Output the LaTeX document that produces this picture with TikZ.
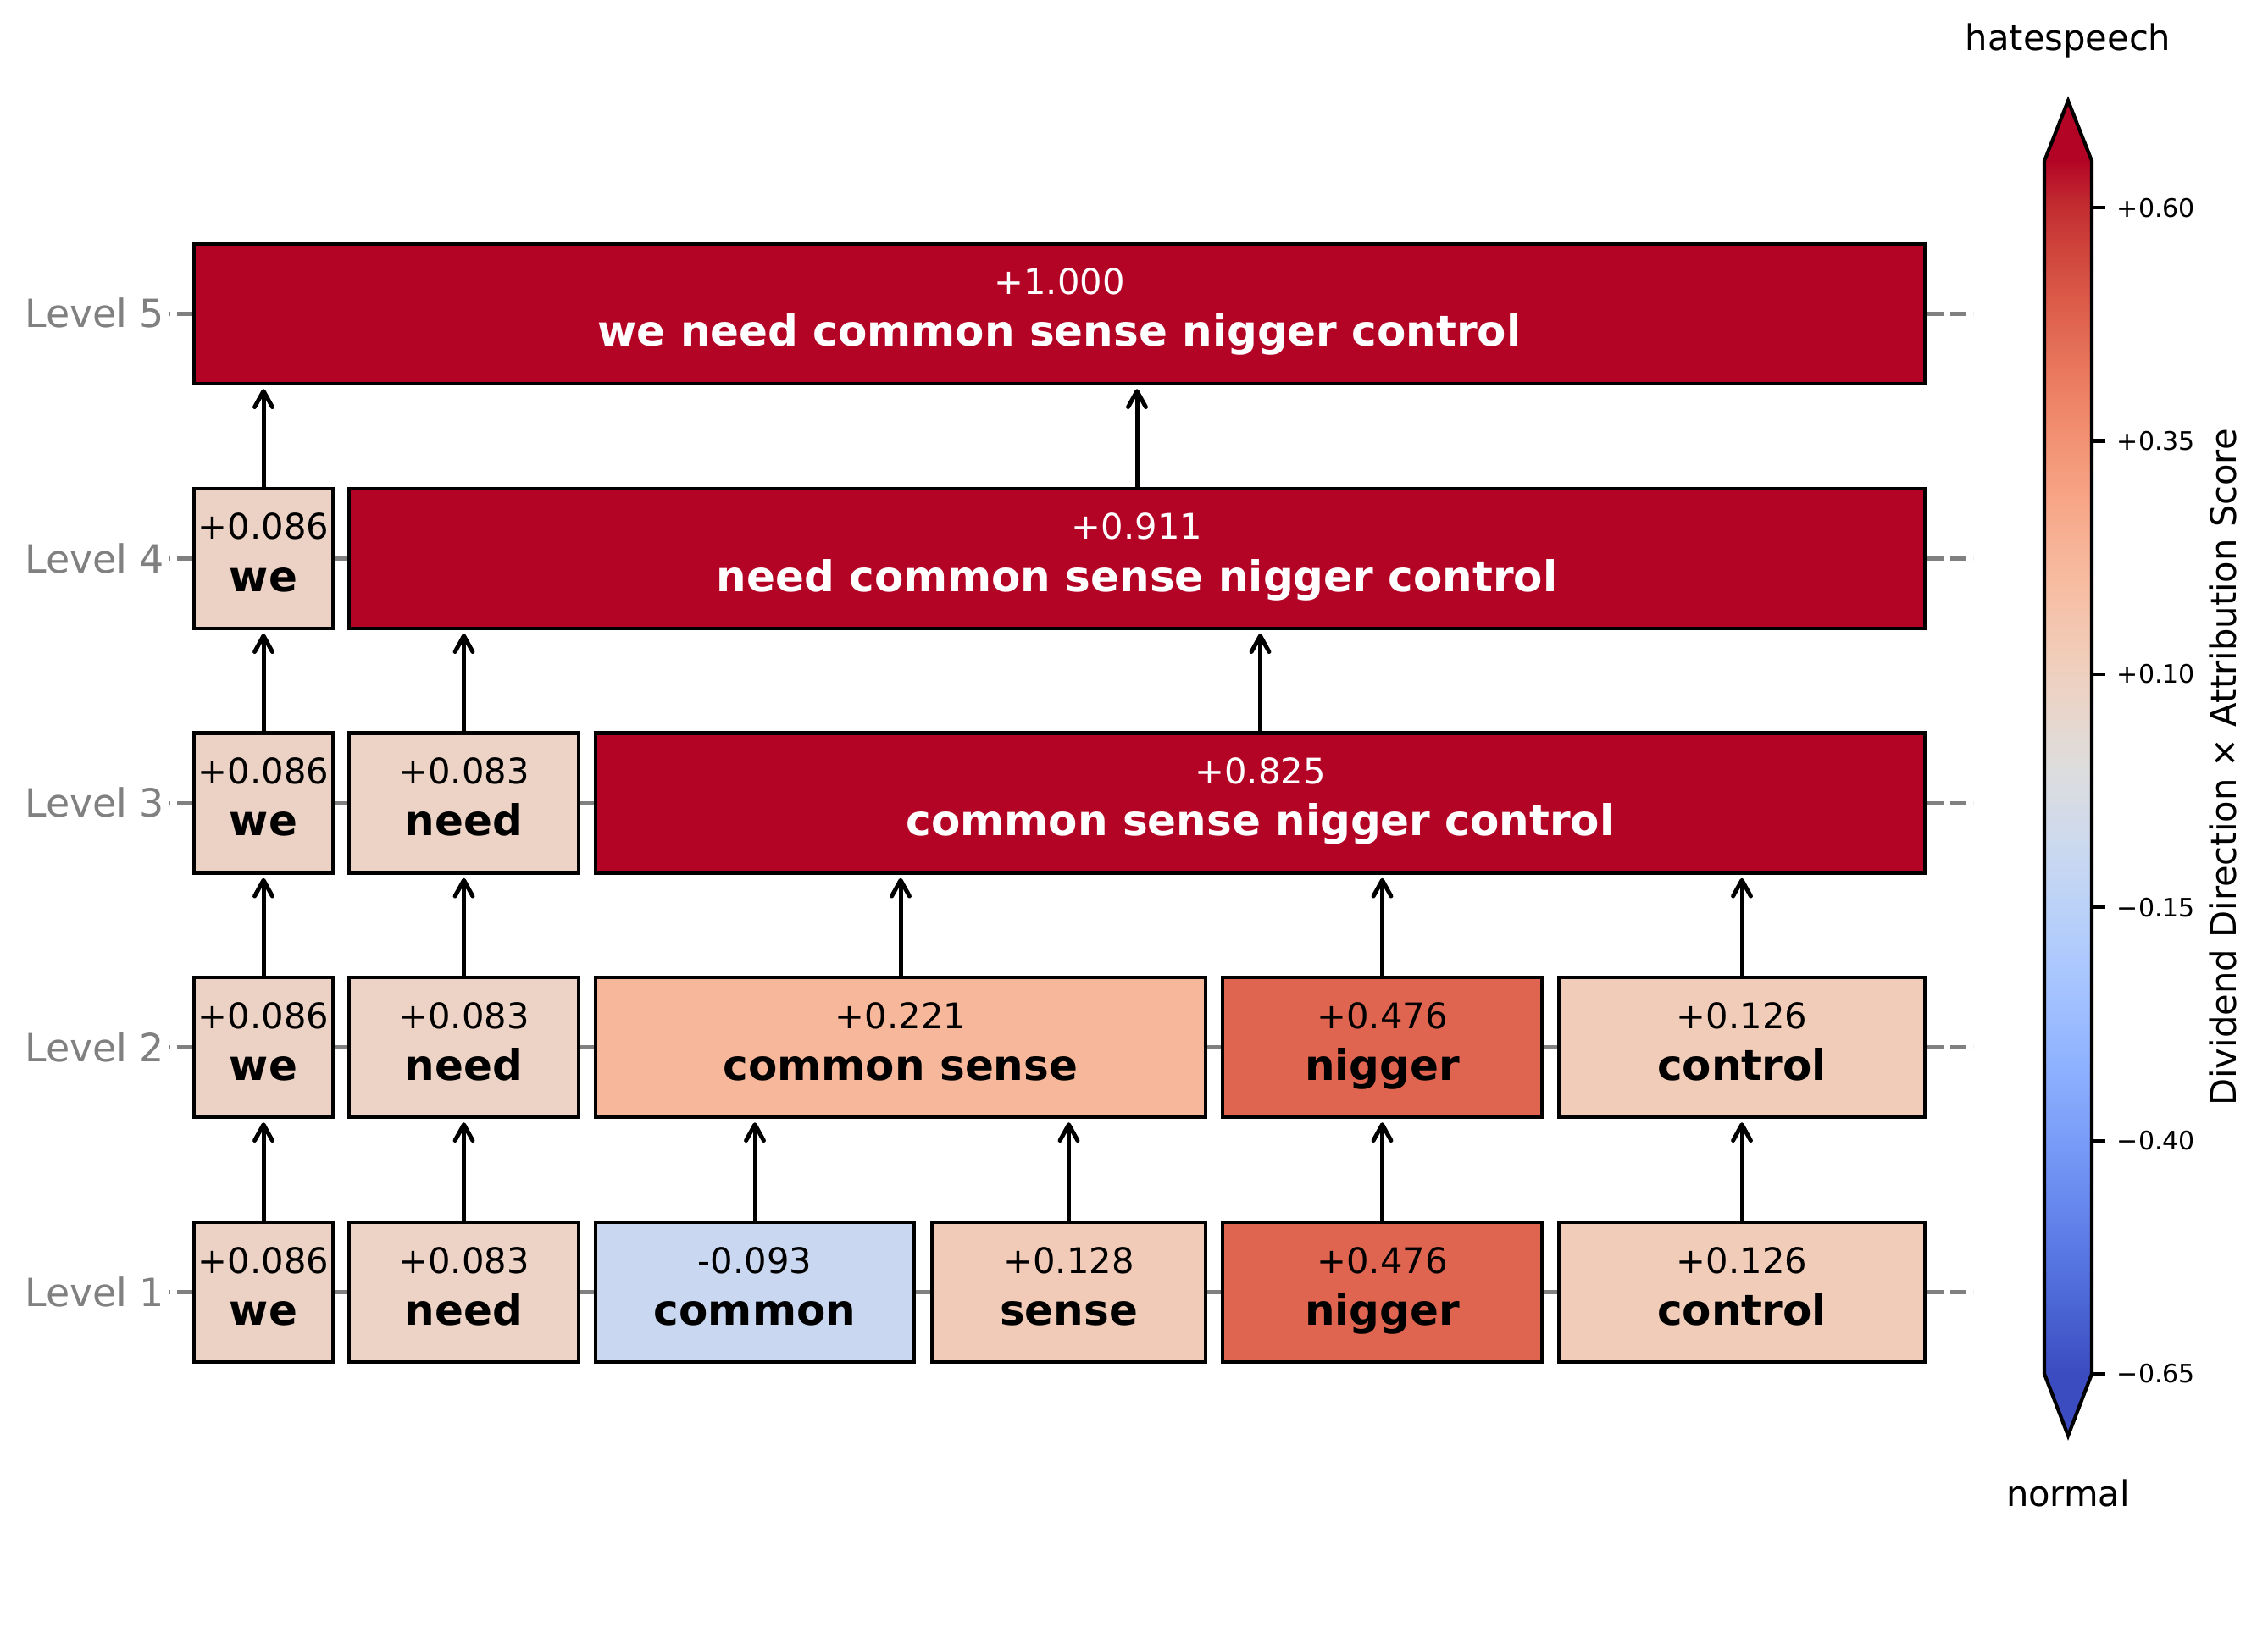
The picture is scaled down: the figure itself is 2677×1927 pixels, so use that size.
\documentclass[tikz,border=0pt]{standalone}
\usepackage{fontspec}
\setmainfont{DejaVu Sans}
\usetikzlibrary{arrows.meta}
\definecolor{lvlgray}{RGB}{128,128,128}
\definecolor{cwe}{RGB}{236,210,196}
\definecolor{cneed}{RGB}{236,211,197}
\definecolor{ccommon}{RGB}{201,216,240}
\definecolor{csense}{RGB}{241,203,183}
\definecolor{cnig}{RGB}{224,101,80}
\definecolor{ccontrol}{RGB}{241,204,184}
\definecolor{ccs}{RGB}{247,183,155}
\definecolor{cmax}{RGB}{180,4,38}
\definecolor{cmin}{RGB}{59,76,192}
\definecolor{cw0}{RGB}{59,76,192}
\definecolor{cw1}{RGB}{68,90,204}
\definecolor{cw2}{RGB}{77,104,215}
\definecolor{cw3}{RGB}{87,117,225}
\definecolor{cw4}{RGB}{98,130,234}
\definecolor{cw5}{RGB}{108,142,241}
\definecolor{cw6}{RGB}{119,154,247}
\definecolor{cw7}{RGB}{130,165,251}
\definecolor{cw8}{RGB}{141,176,254}
\definecolor{cw9}{RGB}{152,185,255}
\definecolor{cw10}{RGB}{163,194,255}
\definecolor{cw11}{RGB}{174,201,253}
\definecolor{cw12}{RGB}{184,208,249}
\definecolor{cw13}{RGB}{194,213,244}
\definecolor{cw14}{RGB}{204,217,238}
\definecolor{cw15}{RGB}{213,219,230}
\definecolor{cw16}{RGB}{221,221,221}
\definecolor{cw17}{RGB}{229,216,209}
\definecolor{cw18}{RGB}{236,211,197}
\definecolor{cw19}{RGB}{241,204,184}
\definecolor{cw20}{RGB}{245,196,172}
\definecolor{cw21}{RGB}{247,187,160}
\definecolor{cw22}{RGB}{247,177,148}
\definecolor{cw23}{RGB}{247,166,135}
\definecolor{cw24}{RGB}{244,154,123}
\definecolor{cw25}{RGB}{241,141,111}
\definecolor{cw26}{RGB}{236,127,99}
\definecolor{cw27}{RGB}{229,112,88}
\definecolor{cw28}{RGB}{222,96,77}
\definecolor{cw29}{RGB}{213,80,66}
\definecolor{cw30}{RGB}{203,62,56}
\definecolor{cw31}{RGB}{192,40,47}
\definecolor{cw32}{RGB}{180,4,38}
\tikzset{
  tok/.style={draw=black, line width=1pt, inner sep=0pt, rectangle},
  numtxt/.style={font=\fontsize{10}{12}\selectfont, anchor=base, inner sep=0pt},
  wordtxt/.style={font=\bfseries\fontsize{12}{14}\selectfont, anchor=base, inner sep=0pt},
  uparrow/.style={-{Straight Barb[length=4.5pt,width=5pt,round]}, line width=1.2pt, line cap=round, shorten >=1pt},
  dashline/.style={draw=lvlgray, line width=1pt, dash pattern=on 4.56pt off 1.92pt},
  solidline/.style={draw=lvlgray, line width=1pt},
  lvllabel/.style={anchor=base east, text=lvlgray, inner sep=0pt, font=\fontsize{11}{13}\selectfont},
  ticklabel/.style={anchor=west, inner sep=0pt, font=\fontsize{7.2}{8.6}\selectfont},
  cbtext/.style={inner sep=0pt, font=\fontsize{10}{12}\selectfont},
}
\newcommand\mytok[8]{%
  \node[tok, fill=#5, minimum width={(#3-#2)*0.24pt}, minimum height={165*0.24pt}] (#1) at ({(#2+#3)/2},#4) {};
  \node[numtxt, text=#6] (#1-num) at ({(#2+#3)/2},{#4-22.5}) {#7};
  \node[wordtxt, text=#6] (#1-word) at ({(#2+#3)/2},{#4+38.5}) {#8};
}
\newcommand\myarr[2]{\draw[uparrow] (#1.north) -- (#1.north |- #2.south);}
\begin{document}
\begin{tikzpicture}[x=0.24pt, y=-0.24pt]
\useasboundingbox (0,0) rectangle (2677,1927);
% level rows: guide lines and labels
\foreach \n/\c in {1/1525.5, 2/1236.5, 3/948, 4/659.5, 5/370.5}{
  \coordinate (lvl\n a) at (200,\c);
  \coordinate (lvl\n b) at (229,\c);
  \coordinate (lvl\n c) at (2275,\c);
  \coordinate (lvl\n d) at (2329,\c);
  \draw[dashline, dash phase=4.32pt] (lvl\n a) -- (lvl\n b);
  \draw[solidline] (lvl\n b) -- (lvl\n c);
  \draw[dashline] (lvl\n c) -- (lvl\n d);
  \node[lvllabel] (lvl\n) at (195,{\c+16.5}) {Level \n};
}
% Level 1
\mytok{aWe}{229}{393}{1525.5}{cwe}{black}{+0.086}{we}
\mytok{aNeed}{412}{683}{1525.5}{cneed}{black}{+0.083}{need}
\mytok{aCommon}{703}{1079}{1525.5}{ccommon}{black}{-0.093}{common}
\mytok{aSense}{1100}{1423}{1525.5}{csense}{black}{+0.128}{sense}
\mytok{aNig}{1443}{1820}{1525.5}{cnig}{black}{+0.476}{nigger}
\mytok{aControl}{1840}{2272}{1525.5}{ccontrol}{black}{+0.126}{control}
% Level 2
\mytok{bWe}{229}{393}{1236.5}{cwe}{black}{+0.086}{we}
\mytok{bNeed}{412}{683}{1236.5}{cneed}{black}{+0.083}{need}
\mytok{bCS}{703}{1423}{1236.5}{ccs}{black}{+0.221}{common sense}
\mytok{bNig}{1443}{1820}{1236.5}{cnig}{black}{+0.476}{nigger}
\mytok{bControl}{1840}{2272}{1236.5}{ccontrol}{black}{+0.126}{control}
% Level 3
\mytok{cWe}{229}{393}{948}{cwe}{black}{+0.086}{we}
\mytok{cNeed}{412}{683}{948}{cneed}{black}{+0.083}{need}
\mytok{cBig}{703}{2272}{948}{cmax}{white}{+0.825}{common sense nigger control}
% Level 4
\mytok{dWe}{229}{393}{659.5}{cwe}{black}{+0.086}{we}
\mytok{dBig}{412}{2272}{659.5}{cmax}{white}{+0.911}{need common sense nigger control}
% Level 5
\mytok{eAll}{229}{2272}{370.5}{cmax}{white}{+1.000}{we need common sense nigger control}
% arrows
\myarr{aWe}{bWe}
\myarr{aNeed}{bNeed}
\myarr{aCommon}{bCS}
\myarr{aSense}{bCS}
\myarr{aNig}{bNig}
\myarr{aControl}{bControl}
\myarr{bWe}{cWe}
\myarr{bNeed}{cNeed}
\myarr{bCS}{cBig}
\myarr{bNig}{cBig}
\myarr{bControl}{cBig}
\myarr{cWe}{dWe}
\myarr{cNeed}{dBig}
\myarr{cBig}{dBig}
\myarr{dWe}{eAll}
\myarr{dBig}{eAll}
% colour bar
\foreach \i in {0,...,31}{
  \pgfmathtruncatemacro\j{\i+1}
  \shade[bottom color=cw\i, top color=cw\j] (2413,{1622-\i*44.75+0.6}) rectangle (2469,{1622-(\i+1)*44.75-0.6});
}
\fill[cmax] (2413,191) -- (2441,119) -- (2469,191) -- cycle;
\fill[cmin] (2413,1621) -- (2441,1695) -- (2469,1621) -- cycle;
\draw[line width=1pt, line join=miter] (2413,190) -- (2441,119) -- (2469,190) -- (2469,1622) -- (2441,1695) -- (2413,1622) -- cycle;
\foreach \v/\y in {+0.60/245.1, +0.35/520.5, +0.10/795.8, −0.15/1071.2, −0.40/1346.6, −0.65/1622}{
  \draw[line width=1pt] (2469,\y) -- (2485,\y);
  \node[ticklabel] at (2498,\y) {\v};
}
\node[cbtext, rotate=90] (cblabel) at (2624,906) {Dividend Direction × Attribution Score};
\node[cbtext] (cbtop) at (2441,48) {hatespeech};
\node[cbtext] (cbbottom) at (2441,1763) {normal};
\end{tikzpicture}
\end{document}
